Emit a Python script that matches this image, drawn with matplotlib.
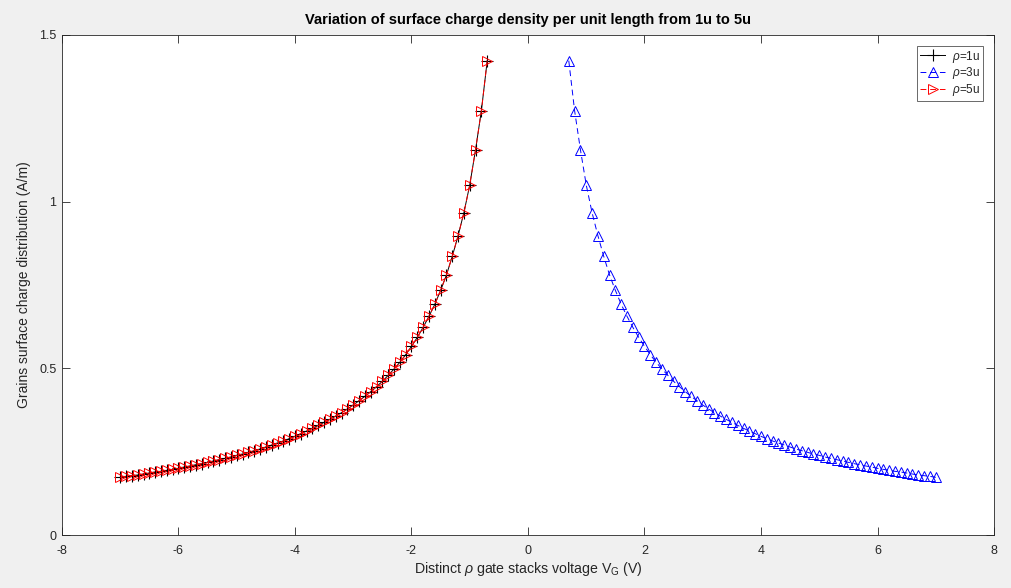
import matplotlib
matplotlib.use("Agg")
import matplotlib.pyplot as plt
from matplotlib.ticker import FuncFormatter

# Data
x_right = [0.7, 0.8, 0.9, 1.0, 1.1, 1.2, 1.3, 1.4, 1.5, 1.6, 1.7, 1.8, 1.9, 2.0,
           2.1, 2.2, 2.3, 2.4, 2.5, 2.6, 2.7, 2.8, 2.9, 3.0, 3.1, 3.2, 3.3, 3.4,
           3.5, 3.6, 3.7, 3.8, 3.9, 4.0, 4.1, 4.2, 4.3, 4.4, 4.5, 4.6, 4.7, 4.8,
           4.9, 5.0, 5.1, 5.2, 5.3, 5.4, 5.5, 5.6, 5.7, 5.8, 5.9, 6.0, 6.1, 6.2,
           6.3, 6.4, 6.5, 6.6, 6.7, 6.8, 6.9, 7.0]
y_charge = [1.423, 1.273, 1.156, 1.050, 0.967, 0.898, 0.836, 0.780, 0.734, 0.692,
            0.656, 0.623, 0.593, 0.566, 0.541, 0.518, 0.498, 0.479, 0.461, 0.445,
            0.430, 0.416, 0.403, 0.390, 0.378, 0.367, 0.357, 0.347, 0.338, 0.329,
            0.320, 0.312, 0.304, 0.296, 0.289, 0.282, 0.276, 0.270, 0.264, 0.258,
            0.253, 0.248, 0.243, 0.239, 0.234, 0.230, 0.226, 0.222, 0.218, 0.214,
            0.211, 0.207, 0.204, 0.200, 0.197, 0.194, 0.191, 0.189, 0.186, 0.183,
            0.180, 0.178, 0.176, 0.173]
x_left = [-v for v in x_right]
y_rho1 = list(y_charge)
y_rho3 = list(y_charge)
y_rho5 = list(y_charge)

labels = [r"$\rho$=1u", r"$\rho$=3u", r"$\rho$=5u"]
x_ticks = [-8, -6, -4, -2, 0, 2, 4, 6, 8]
y_ticks = [0, 0.5, 1, 1.5]

plt.rcParams['font.family'] = ['Liberation Sans', 'DejaVu Sans']
plt.rcParams['mathtext.fontset'] = 'custom'
plt.rcParams['mathtext.it'] = 'Liberation Sans:italic'
plt.rcParams['mathtext.rm'] = 'Liberation Sans'
plt.rcParams['axes.unicode_minus'] = False

fig = plt.figure(figsize=(10.11, 5.88), dpi=100)
fig.patch.set_facecolor('#f0f0f0')
ax = fig.add_axes([0.0613, 0.0901, 0.9219, 0.8504])
ax.set_facecolor('white')

ax.plot(x_left, y_rho1, color='black', linestyle='-', linewidth=0.7,
        marker='+', markersize=8, markeredgewidth=0.8, label=labels[0])
ax.plot(x_right, y_rho3, color='blue', linestyle='--', linewidth=0.7, dashes=(6, 4),
        marker='^', markersize=7, markerfacecolor='none', markeredgewidth=0.7,
        label=labels[1])
ax.plot(x_left, y_rho5, color='red', linestyle='--', linewidth=0.7, dashes=(6, 4),
        marker='>', markersize=7, markerfacecolor='none', markeredgewidth=0.7,
        label=labels[2])

ax.set_xlim(-8, 8)
ax.set_ylim(0, 1.5)
ax.set_xticks(x_ticks)
ax.set_yticks(y_ticks)
ax.xaxis.set_major_formatter(FuncFormatter(lambda v, p: ('%g' % v)))
ax.yaxis.set_major_formatter(FuncFormatter(lambda v, p: ('%g' % v)))
ax.tick_params(direction='in', top=True, right=True, length=6, width=0.6,
               labelsize=9, colors='#262626')
ax.tick_params(axis='x', pad=7)
ax.tick_params(axis='y', pad=4)
for s in ax.spines.values():
    s.set_linewidth(0.6)
    s.set_color('#262626')

ax.set_title("Variation of surface charge density per unit length from 1u to 5u",
             fontsize=10.5, fontweight='bold', color='black', pad=8)
ax.set_xlabel(r"Distinct $\rho$ gate stacks voltage V$_\mathrm{G}$ (V)", fontsize=10.2,
              color='#262626', labelpad=2)
ax.set_ylabel("Grains surface charge distribution (A/m)", fontsize=10,
              color='#262626', labelpad=6)

leg = ax.legend(loc='upper right', fontsize=8.5, frameon=True, fancybox=False,
                edgecolor='#262626', borderpad=0.25, handlelength=2.1,
                handletextpad=0.6, labelspacing=0.05, borderaxespad=0.9)
leg.get_frame().set_linewidth(0.6)
for t in leg.get_texts():
    t.set_color('#262626')

fig.savefig("out.png", dpi=100, facecolor=fig.get_facecolor())
